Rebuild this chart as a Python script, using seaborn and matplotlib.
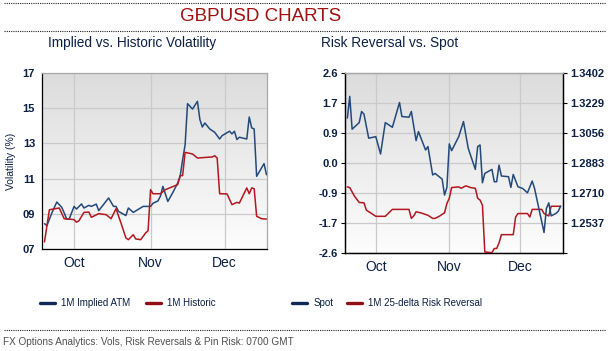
import numpy as np
import pandas as pd
import matplotlib
matplotlib.use("Agg")
import matplotlib.pyplot as plt
from matplotlib.lines import Line2D
from matplotlib.colors import LinearSegmentedColormap
import seaborn as sns

# ---------------- data ----------------
START = "2024-09-18"   # day 0 of the x axis

iv_day = [1, 2, 4, 6, 8, 9, 10, 11, 13, 14, 16, 17, 19, 20, 22, 23, 27, 29, 30, 31,
          34, 35, 37, 41, 42, 44, 45, 47, 48, 49, 51, 53, 55, 56, 57, 58, 59, 61, 63, 64,
          65, 66, 68, 70, 72, 73, 76, 77, 78, 79, 80, 83, 84, 85, 86, 87, 90, 91]
iv_val = [8.44, 8.33, 9.05, 9.67, 9.37, 9.05, 8.70, 8.70, 9.42, 9.27, 9.56, 9.33, 9.48, 9.42,
          9.55, 9.18, 9.90, 9.42, 9.42, 9.14, 8.90, 9.33, 9.08, 9.42, 9.42, 9.42, 9.60, 9.73,
          10.00, 10.56, 9.70, 10.20, 10.75, 11.13, 12.08, 12.91, 15.26, 14.95, 15.39, 14.35,
          13.93, 14.16, 13.82, 13.63, 13.25, 13.44, 13.69, 13.54, 13.69, 13.22, 13.35, 13.25,
          14.50, 13.88, 13.82, 11.13, 11.85, 11.22]

hv_day = [1, 3, 7, 9, 13, 14, 15, 17, 19, 20, 23, 26, 28, 30, 32, 34, 35, 37, 38, 40,
          42, 43, 44, 45, 48, 50, 55, 56, 57, 58, 61, 63, 69, 70, 71, 72, 75, 77, 79, 80,
          83, 84, 85, 86, 87, 89, 91]
hv_val = [7.40, 9.23, 9.33, 8.72, 8.67, 8.52, 8.61, 9.08, 9.10, 8.80, 9.01, 8.95, 8.72, 9.29,
          8.48, 7.63, 7.53, 7.81, 7.57, 7.53, 7.91, 8.04, 10.37, 10.14, 10.14, 10.37, 10.66,
          11.17, 11.17, 12.49, 12.40, 12.17, 12.23, 12.30, 12.17, 10.14, 10.13, 9.52, 9.65,
          9.61, 10.47, 10.14, 10.47, 10.43, 8.86, 8.72, 8.70]

spot_day = [1, 2, 3, 6, 7, 8, 10, 13, 15, 17, 20, 23, 24, 27, 28, 30, 31, 34, 35, 37,
            38, 41, 42, 43, 44, 45, 48, 50, 52, 55, 56, 57, 58, 59, 62, 63, 64, 65, 66, 69,
            70, 71, 73, 75, 77, 79, 80, 84, 85, 86, 87, 89, 90, 91]
spot_val = [1.3142, 1.3267, 1.3078, 1.3116, 1.3180, 1.3165, 1.3026, 1.3035, 1.2935, 1.3116,
            1.3089, 1.3232, 1.3151, 1.3147, 1.3180, 1.3012, 1.3064, 1.2958, 1.2978, 1.2814,
            1.2823, 1.2790, 1.2698, 1.2742, 1.2993, 1.2954, 1.3035, 1.3122, 1.2968, 1.2846,
            1.2978, 1.2987, 1.2769, 1.2823, 1.2846, 1.2775, 1.2775, 1.2871, 1.2808, 1.2804,
            1.2742, 1.2817, 1.2746, 1.2736, 1.2711, 1.2779, 1.2736, 1.2482, 1.2621, 1.2653,
            1.2578, 1.2592, 1.2605, 1.2634]

rr_day = [1, 2, 4, 6, 8, 9, 13, 17, 20, 27, 28, 29, 30, 32, 35, 37, 38, 40, 42, 43,
          44, 45, 48, 49, 51, 53, 55, 56, 57, 58, 59, 62, 63, 64, 65, 66, 71, 72, 73, 77,
          78, 79, 83, 84, 86, 87, 91]
rr_val = [-0.69, -0.71, -0.96, -1.14, -1.15, -1.36, -1.54, -1.54, -1.34, -1.34, -1.60, -1.53,
          -1.41, -1.44, -1.51, -1.60, -1.60, -1.53, -1.44, -1.17, -1.02, -0.71, -0.69, -0.73,
          -0.66, -0.71, -0.73, -1.02, -1.07, -1.22, -2.57, -2.59, -2.47, -2.47, -2.31, -2.07,
          -2.07, -1.56, -1.46, -1.46, -1.56, -1.34, -1.34, -1.46, -1.53, -1.25, -1.25]

month_ticks = ["2024-10-01", "2024-11-01", "2024-12-01"]
month_labels = ["Oct", "Nov", "Dec"]
vol_ticks = [7, 9, 11, 13, 15, 17]
vol_labels = ["07", "09", "11", "13", "15", "17"]
rr_ticks = [-2.6, -1.7333, -0.8667, 0.0, 0.8667, 1.7333, 2.6]
rr_labels = ["-2.6", "-1.7", "-0.9", "0.0", "0.9", "1.7", "2.6"]
spot_ticks = [1.2364, 1.2537, 1.2710, 1.2883, 1.3056, 1.3229, 1.3402]
spot_labels = ["", "1.2537", "1.2710", "1.2883", "1.3056", "1.3229", "1.3402"]

# ---------------- style ----------------
sns.set_style("white")
plt.rcParams["font.family"] = ["Liberation Sans", "DejaVu Sans"]

NAVY = "#0c1f45"
BLUE = "#23497a"
RED = "#b3171f"
LEG_BLUE = "#0e2a55"
LEG_RED = "#8f0f14"
GRID = "#cacaca"

base = pd.Timestamp(START)


def frame(days, vals, name):
    return pd.DataFrame({"date": base + pd.to_timedelta(days, unit="D"), name: vals})


df_iv = frame(iv_day, iv_val, "v")
df_hv = frame(hv_day, hv_val, "v")
df_spot = frame(spot_day, spot_val, "v")
df_rr = frame(rr_day, rr_val, "v")

W, H = 612, 351
fig = plt.figure(figsize=(W / 100, H / 100), dpi=100)
fig.patch.set_facecolor("white")

cmap = LinearSegmentedColormap.from_list("bg", ["#fdfdfd", "#dcdcdc"])


def px_rect(x0, y0, x1, y1):
    return [x0 / W, 1 - y1 / H, (x1 - x0) / W, (y1 - y0) / H]


def add_bg(rect):
    bg = fig.add_axes(rect, zorder=0)
    grad = np.linspace(0, 1, 256).reshape(-1, 1)
    bg.imshow(grad, extent=[0, 1, 0, 1], origin="lower", aspect="auto", cmap=cmap)
    bg.set_axis_off()
    return bg


def style_yticks(ax):
    ax.tick_params(axis="y", length=3, width=0.8, color="black", direction="out",
                   labelsize=8, labelcolor=NAVY, pad=2)
    for lab in ax.get_yticklabels():
        lab.set_fontweight("bold")


def style_axes(ax, xlim):
    ax.patch.set_alpha(0)
    ax.set_xlim(base + pd.Timedelta(days=xlim[0]), base + pd.Timedelta(days=xlim[1]))
    ax.set_xticks(pd.to_datetime(month_ticks))
    ax.set_xticklabels(month_labels, fontsize=10, color=NAVY)
    ax.tick_params(axis="x", length=0, pad=5)
    style_yticks(ax)
    ax.grid(True, color=GRID, linewidth=0.9)
    ax.set_axisbelow(True)
    ax.set_xlabel("")
    ax.set_ylabel("")


# ---------------- left chart ----------------
rectL = px_rect(42, 73, 267, 249)
add_bg(rectL)
axL = fig.add_axes(rectL, zorder=1)
sns.lineplot(data=df_iv, x="date", y="v", ax=axL, color=BLUE, linewidth=1.1, zorder=3)
sns.lineplot(data=df_hv, x="date", y="v", ax=axL, color=RED, linewidth=1.1, zorder=3)
axL.set_ylim(7, 17)
axL.set_yticks(vol_ticks)
axL.set_yticklabels(vol_labels)
style_axes(axL, (0, 91.2))
for s in ["left", "bottom"]:
    axL.spines[s].set_color("black")
    axL.spines[s].set_linewidth(0.9)
for s in ["top", "right"]:
    axL.spines[s].set_color("#a8a8a8")
    axL.spines[s].set_linewidth(0.9)
axL.set_ylabel("Volatility (%)", fontsize=7.5, color=NAVY)
axL.yaxis.set_label_coords(-0.115, 0.5)

# ---------------- right chart ----------------
rectR = px_rect(345, 73, 563, 253)
add_bg(rectR)
axR = fig.add_axes(rectR, zorder=1)
sns.lineplot(data=df_rr, x="date", y="v", ax=axR, color=RED, linewidth=1.1, zorder=3)
axR.set_ylim(-2.6, 2.6)
axR.set_yticks(rr_ticks)
axR.set_yticklabels(rr_labels)
style_axes(axR, (0, 92))

axS = axR.twinx()
axS.set_zorder(2)
axS.patch.set_alpha(0)
sns.lineplot(data=df_spot, x="date", y="v", ax=axS, color=BLUE, linewidth=1.1, zorder=3)
axS.set_ylim(1.2364, 1.3402)
axS.set_yticks(spot_ticks)
axS.set_yticklabels(spot_labels)
axS.set_ylabel("")
axS.set_xlabel("")
style_yticks(axS)
axS.grid(False)
for ax in (axR, axS):
    for s in ["left", "bottom", "right"]:
        ax.spines[s].set_color("black")
        ax.spines[s].set_linewidth(0.9)
    ax.spines["top"].set_color("#a8a8a8")
    ax.spines["top"].set_linewidth(0.9)

# ---------------- legends ----------------
def legend(labels, colors, anchor, spacing):
    handles = [Line2D([0], [0], color=c, lw=2.4) for c in colors]
    leg = fig.legend(handles, labels, loc="center left", bbox_to_anchor=anchor,
                     ncol=len(labels), frameon=False, handlelength=1.5,
                     handletextpad=0.7, columnspacing=spacing, borderaxespad=0,
                     borderpad=0, prop={"size": 7})
    for t in leg.get_texts():
        t.set_color(NAVY)
    return leg


legend(["1M Implied ATM", "1M Historic"], [LEG_BLUE, LEG_RED], (40 / W, 1 - 303 / H), 1.6)
legend(["Spot", "1M 25-delta Risk Reversal"], [LEG_BLUE, LEG_RED], (292 / W, 1 - 303 / H), 1.4)

# ---------------- titles / decorations ----------------
def dotted(y):
    fig.add_artist(Line2D([4 / W, 606 / W], [1 - y / H, 1 - y / H], transform=fig.transFigure,
                          color="#222222", linewidth=0.8, linestyle=(0, (1, 1))))


dotted(2.5)
dotted(30.5)
dotted(330)

fig.text(261 / W, 1 - 16.5 / H, "GBPUSD CHARTS", ha="center", va="center", fontsize=13.5,
         color="#a01010")
fig.text(132 / W, 1 - 43 / H, "Implied vs. Historic Volatility", ha="center", va="center",
         fontsize=9.8, color=NAVY)
fig.text(390 / W, 1 - 43 / H, "Risk Reversal vs. Spot", ha="center", va="center",
         fontsize=9.8, color=NAVY)
fig.text(3 / W, 1 - 342 / H, "FX Options Analytics: Vols, Risk Reversals & Pin Risk: 0700 GMT",
         ha="left", va="center", fontsize=7.2, color="#505050")

fig.savefig("out.png", dpi=100, facecolor="white")
